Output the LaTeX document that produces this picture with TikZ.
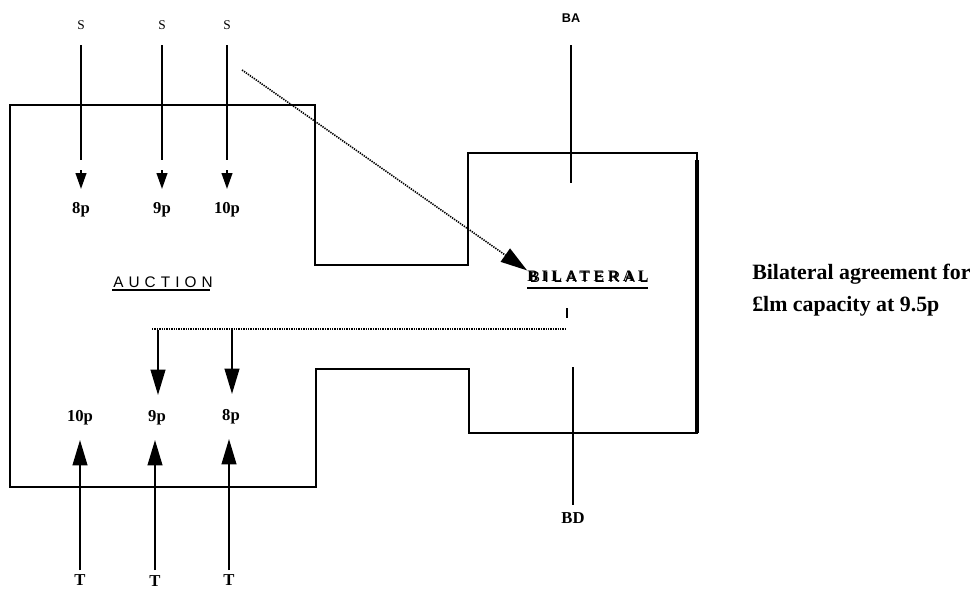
\documentclass[tikz,border=0pt]{standalone}
\usepackage{fontspec}
\setmainfont{Liberation Serif}
\setsansfont{Liberation Sans}
\usetikzlibrary{arrows.meta}
\begin{document}
\begin{tikzpicture}[x=0.75pt,y=-0.75pt,
  outline/.style={line width=1.6pt, line join=miter},
  stem/.style={line width=1.5pt},
  smalltip/.style={-{Triangle[length=12pt,width=8pt]}, line width=1.5pt},
  bigtip/.style={-{Triangle[length=19pt,width=11pt]}, line width=1.5pt},
  lbl/.style={font=\fontsize{12.5}{14}\selectfont\bfseries, inner sep=0pt},
  slbl/.style={font=\fontsize{10}{12}\selectfont, inner sep=0pt},
  balbl/.style={font=\sffamily\fontsize{9.5}{11}\selectfont\bfseries, inner sep=0pt},
  dotline/.style={line width=1.2pt, dash pattern=on 1pt off 0.8pt},
  underl/.style={line width=1.8pt},
  notetext/.style={anchor=west, inner sep=0pt, font=\fontsize{16.4}{19}\selectfont\bfseries},
]
\useasboundingbox (0,0) rectangle (978,596);

% outline of the auction / bilateral areas
\draw[outline] (10,105) -- (315,105) -- (315,265) -- (468,265) -- (468,153)
  -- (697,153) -- (697,433) -- (469,433) -- (469,369) -- (316,369)
  -- (316,487) -- (10,487) -- cycle;
\draw[line width=2.3pt] (697,160) -- (697,433);

% top S sellers
\node[slbl] (s1) at (81,25) {S};
\node[slbl] (s2) at (162,25) {S};
\node[slbl] (s3) at (227,25) {S};
\node[lbl] (p8) at (81,210) {8p};
\node[lbl] (p9) at (162,210) {9p};
\node[lbl] (p10) at (227,210) {10p};
\foreach \n/\m in {s1/p8, s2/p9, s3/p10}{
  \draw[stem] (\n |- 0,45) -- (\n |- 0,160);
  \draw[smalltip] (\m |- 0,170) -- (\m |- 0,189);
}

% auction label
\node[font=\sffamily\fontsize{11.5}{13}\selectfont\addfontfeature{LetterSpace=33}, inner sep=0pt] (auc) at (163,282) {AUCTION};
\draw[underl] (112,290) -- (210,290);

% bilateral label
\node[font=\sffamily\fontsize{11.5}{13}\selectfont\addfontfeature{LetterSpace=30}, inner sep=0pt] (bil) at (589,277) {BILATERAL};
\node[font=\fontsize{12}{14}\selectfont\bfseries\addfontfeature{LetterSpace=22}, inner sep=0pt] (bilb) at (588,276) {BILATERAL};
\draw[line width=2pt] (527,288) -- (648,288);

% diagonal dotted arrow
\coordinate (dstart) at (242,70);
\draw[dotline, -{Triangle[length=20pt,width=12pt]}] (dstart) -- (bilb.north west);

% BA / BD
\node[balbl] (ba) at (571,18) {BA};
\draw[line width=1.5pt] (ba |- 0,45) -- (ba |- 0,183);
\node[lbl] (bd) at (573,518) {BD};
\draw[line width=1.5pt] (bd |- 0,367) -- (bd |- 0,505);

% dotted horizontal line
\coordinate (dl) at (152,329);
\coordinate (dr) at (567,329);
\draw[dotline, line width=1pt] (dl) -- (dr);
\draw[line width=1.3pt] (567,308) -- (567,318);

% bottom labels
\node[lbl] (r10) at (80,418) {10p};
\node[lbl] (q9) at (157,418) {9p};
\node[lbl] (q8) at (231,417) {8p};
\draw[bigtip] (158,330) -- (158,395);
\draw[bigtip] (232,330) -- (232,394);

% T buyers
\node[lbl] (t1) at (80,580) {T};
\node[lbl] (t2) at (155,581) {T};
\node[lbl] (t3) at (229,580) {T};
\draw[bigtip] (t1 |- 0,570) -- (t1 |- 0,440);
\draw[bigtip] (t2 |- 0,570) -- (t2 |- 0,440);
\draw[bigtip] (t3 |- 0,570) -- (t3 |- 0,439);

% note
\node[notetext] (n1) at (752,274) {Bilateral agreement for};
\node[notetext] (n2) at (752,306) {£lm capacity at 9.5p};
\end{tikzpicture}
\end{document}
